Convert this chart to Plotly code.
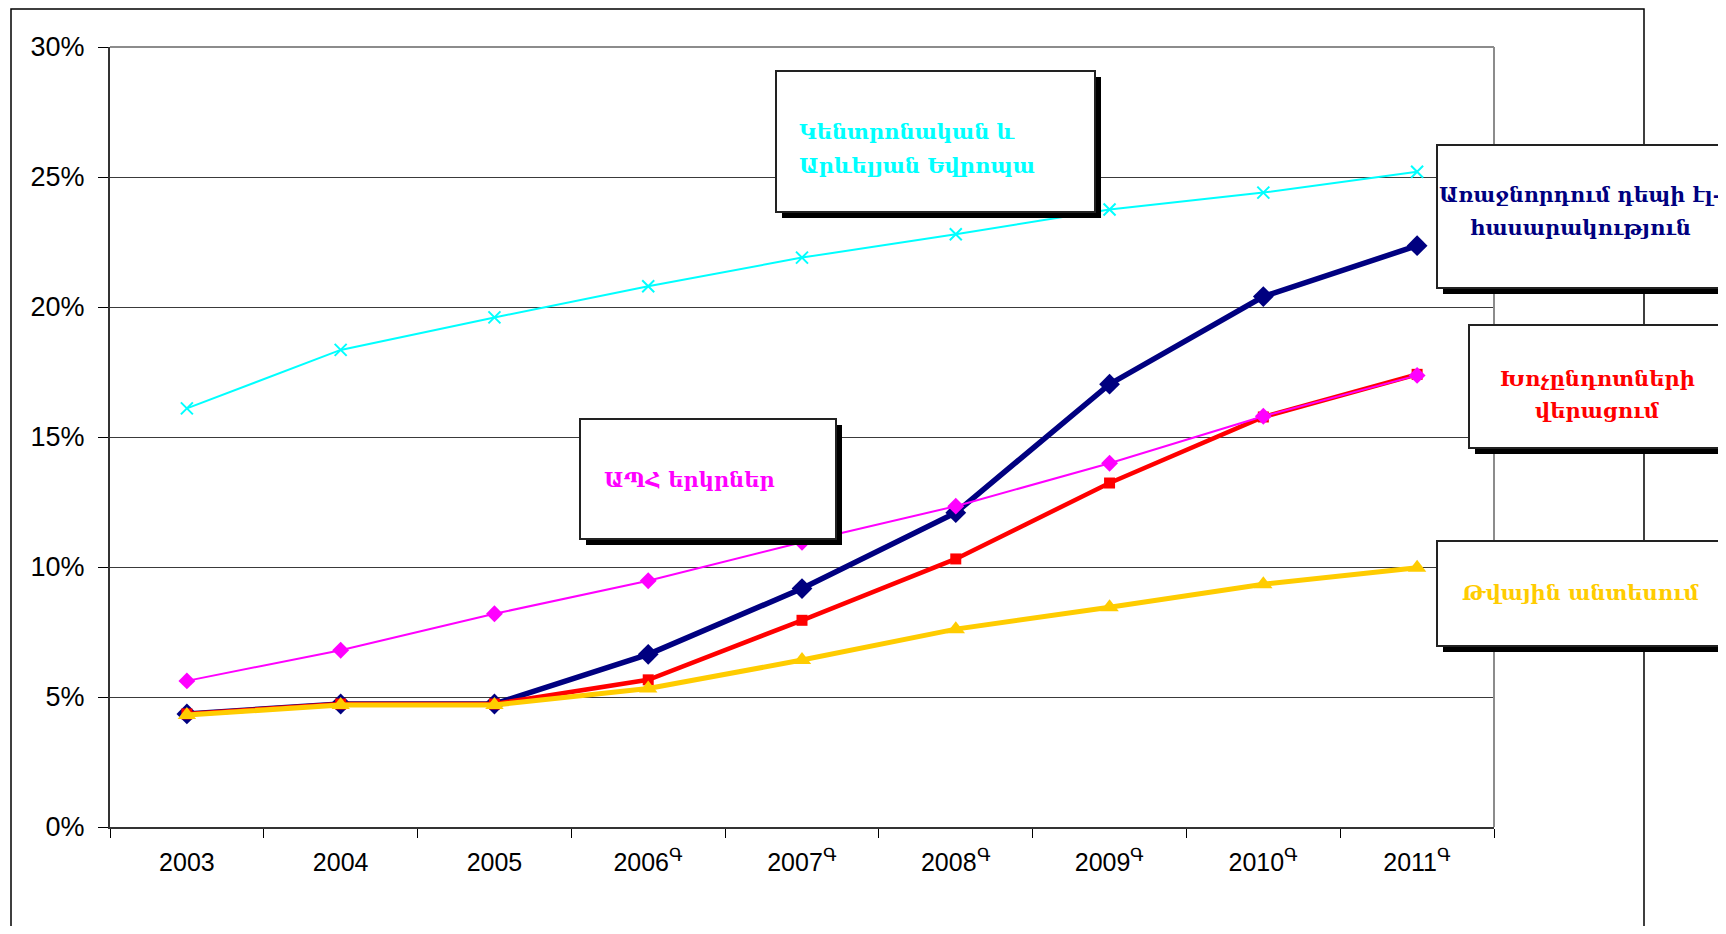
import plotly.graph_objects as go

years = ["2003", "2004", "2005", "2006", "2007", "2008", "2009", "2010", "2011"]
tick_labels = ["2003", "2004", "2005", "2006<sup>Գ</sup>", "2007<sup>Գ</sup>", "2008<sup>Գ</sup>",
               "2009<sup>Գ</sup>", "2010<sup>Գ</sup>", "2011<sup>Գ</sup>"]

cee = [16.1, 18.35, 19.6, 20.8, 21.9, 22.8, 23.75, 24.4, 25.2]
leaders = [4.35, 4.73, 4.73, 6.64, 9.17, 12.09, 17.03, 20.4, 22.36]
barriers = [4.35, 4.73, 4.73, 5.66, 7.95, 10.31, 13.23, 15.77, 17.41]
cis = [5.62, 6.8, 8.2, 9.47, 10.95, 12.34, 13.99, 15.8, 17.37]
digital = [4.31, 4.69, 4.69, 5.33, 6.42, 7.61, 8.45, 9.34, 9.97]

names = {
    "cee": ["Կենտրոնական և", "Արևելյան Եվրոպա"],
    "leaders": ["Առաջնորդում դեպի էլ-", "հասարակություն"],
    "barriers": ["Խոչընդոտների", "վերացում"],
    "cis": ["ԱՊՀ երկրներ"],
    "digital": ["Թվային անտեսում"],
}

OFF = 8  # page body margin
W, H = 1726 - OFF, 934 - 2 * OFF
# plot area in page pixel coordinates
L, R, T, B = 110, 1494, 47, 827
PW, PH = R - L, B - T


def px(x):
    return (x - L) / PW


def py(y):
    return (B - y) / PH


fig = go.Figure()
fig.add_trace(go.Scatter(x=years, y=cee, mode="lines+markers", name="cee",
                         line=dict(color="#00FFFF", width=2),
                         marker=dict(symbol="x-thin", size=12, line=dict(color="#00FFFF", width=2))))
fig.add_trace(go.Scatter(x=years, y=leaders, mode="lines+markers", name="leaders",
                         line=dict(color="#000080", width=5.5),
                         marker=dict(symbol="diamond", size=16, color="#000080")))
fig.add_trace(go.Scatter(x=years, y=barriers, mode="lines+markers", name="barriers",
                         line=dict(color="#FF0000", width=4.5),
                         marker=dict(symbol="square", size=11, color="#FF0000")))
fig.add_trace(go.Scatter(x=years, y=cis, mode="lines+markers", name="cis",
                         line=dict(color="#FF00FF", width=2),
                         marker=dict(symbol="diamond", size=13, color="#FF00FF")))
fig.add_trace(go.Scatter(x=years, y=digital, mode="lines+markers", name="digital",
                         line=dict(color="#FFCC00", width=5),
                         marker=dict(symbol="triangle-up", size=16, color="#FFCC00")))

shapes = []
# outer frame
shapes.append(dict(type="rect", xref="paper", yref="paper", x0=px(11), x1=px(1644), y0=py(9), y1=py(945),
                   line=dict(color="black", width=1.5), fillcolor="rgba(0,0,0,0)", layer="below"))
# top and right plot border (gray)
shapes.append(dict(type="line", xref="paper", yref="paper", x0=0, x1=1, y0=1, y1=1,
                   line=dict(color="#8c8c8c", width=2), layer="above"))
shapes.append(dict(type="line", xref="paper", yref="paper", x0=1, x1=1, y0=0, y1=1,
                   line=dict(color="#8c8c8c", width=2), layer="above"))

boxes = [
    (776, 71, 1095, 212),
    (1437, 145, 1740, 288),
    (1469, 325, 1740, 448),
    (580, 419, 836, 539),
    (1437, 541, 1740, 646),
]
for (x0, y0, x1, y1) in boxes:
    shapes.append(dict(type="rect", xref="paper", yref="paper",
                       x0=px(x0 + 6), x1=px(x1 + 6), y0=py(y0 + 6), y1=py(y1 + 6),
                       line=dict(width=0), fillcolor="black", layer="above"))
    shapes.append(dict(type="rect", xref="paper", yref="paper",
                       x0=px(x0), x1=px(x1), y0=py(y0), y1=py(y1),
                       line=dict(color="#222", width=2), fillcolor="white", layer="above"))

FONT = "DejaVu Serif"
annots = []


def add_text(text, x, y, color, anchor, size=21):
    annots.append(dict(text="<b>" + text + "</b>", x=px(x), y=py(y), xref="paper", yref="paper",
                       xanchor=anchor, yanchor="middle", showarrow=False,
                       font=dict(family=FONT, size=size, color=color)))


add_text(names["cee"][0], 797, 132, "#00FFFF", "left")
add_text(names["cee"][1], 797, 165, "#00FFFF", "left")
add_text(names["leaders"][0], 1580, 195, "#000080", "center", 20.5)
add_text(names["leaders"][1], 1580, 228, "#000080", "center")
add_text(names["barriers"][0], 1597, 378, "#FF0000", "center")
add_text(names["barriers"][1], 1597, 410, "#FF0000", "center")
add_text(names["cis"][0], 602, 479, "#FF00FF", "left")
add_text(names["digital"][0], 1581, 592, "#FFCC00", "center")

fig.update_layout(
    width=W, height=H,
    margin=dict(l=L - OFF, r=W - (R - OFF), t=T - OFF, b=H - (B - OFF)),
    paper_bgcolor="white", plot_bgcolor="white",
    showlegend=False,
    shapes=shapes, annotations=annots,
    xaxis=dict(type="category", range=[-0.5, 8.5], tickmode="array", tickvals=years, ticktext=tick_labels,
               tickson="boundaries", ticks="outside", ticklen=9, tickcolor="black", tickwidth=1,
               ticklabelstandoff=12,
               showline=True, linecolor="#333", linewidth=2, showgrid=False,
               tickfont=dict(family="Liberation Sans Narrow, Liberation Sans", size=25, color="black")),
    yaxis=dict(range=[0, 30], dtick=5, tick0=0, ticksuffix="%", ticks="outside", ticklen=10,
               tickcolor="black", showline=True, linecolor="#333", linewidth=2,
               ticklabelstandoff=8,
               showgrid=True, gridcolor="#3a3a3a", gridwidth=1, zeroline=False,
               tickfont=dict(family="Liberation Sans", size=27, color="black")),
)

fig.write_html("out.html")
